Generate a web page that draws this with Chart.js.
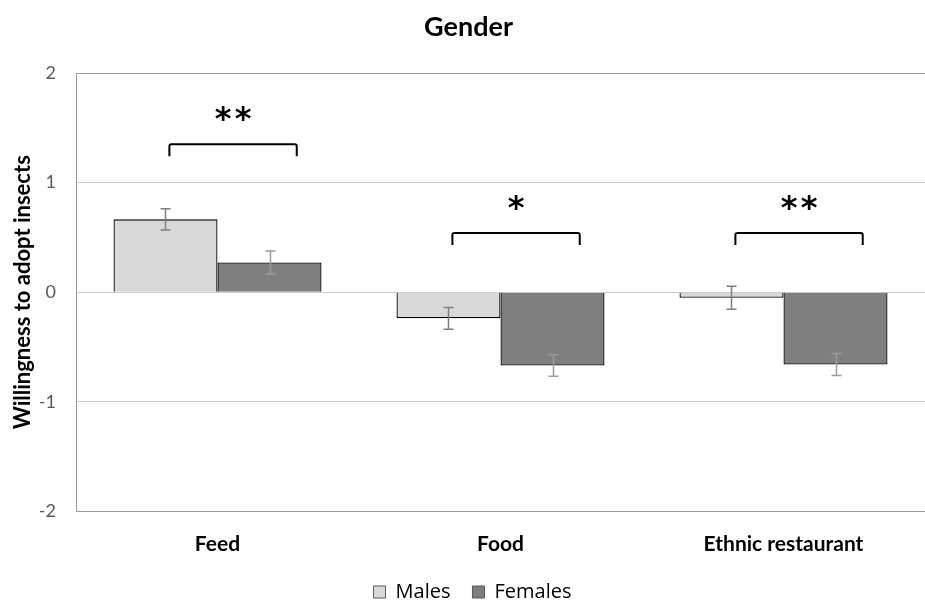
<!DOCTYPE html>
<html>
<head>
<meta charset="utf-8">
<script src="https://cdn.jsdelivr.net/npm/chart.js@4.4.1/dist/chart.umd.min.js"></script>
<style>
  html, body { margin: 0; padding: 0; background: #ffffff; }
  #wrap { width: 925px; height: 601px; }
</style>
</head>
<body>
<div id="wrap"><canvas id="chart" width="925" height="601"></canvas></div>
<script>
// Willingness to adopt insects, by gender (mean ± SE)
const categories = ['Feed', 'Food', 'Ethnic restaurant'];
const males = [0.665, -0.238, -0.05];
const females = [0.272, -0.668, -0.659];
const malesErr = [0.097, 0.1, 0.105];
const femalesErr = [0.105, 0.098, 0.1];
const yTicks = [-2, -1, 0, 1, 2];
// significance of the male/female difference per category
const significance = ['**', '*', '**'];
const bracketLevel = [1.35, 0.54, 0.54];

const errors = [malesErr, femalesErr];

const errorBarPlugin = {
  id: 'errorBars',
  afterDatasetsDraw(chart) {
    const ctx = chart.ctx;
    const y = chart.scales.y;
    ctx.save();
    ctx.lineWidth = 1.5;
    chart.data.datasets.forEach((ds, d) => {
      const meta = chart.getDatasetMeta(d);
      // a touch lighter over the dark bars so the whisker stays visible
      ctx.strokeStyle = d === 0 ? '#7f7f7f' : '#9a9a9a';
      meta.data.forEach((bar, i) => {
        const v = ds.data[i];
        const e = errors[d][i];
        const x = Math.round(bar.x) + 0.5;
        const top = y.getPixelForValue(v + e);
        const bot = y.getPixelForValue(v - e);
        const cap = 5;
        ctx.beginPath();
        ctx.moveTo(x, top); ctx.lineTo(x, bot);
        ctx.moveTo(x - cap, top); ctx.lineTo(x + cap, top);
        ctx.moveTo(x - cap, bot); ctx.lineTo(x + cap, bot);
        ctx.stroke();
      });
    });
    ctx.restore();
  }
};

const bracketPlugin = {
  id: 'sigBrackets',
  afterDraw(chart) {
    const ctx = chart.ctx;
    const xs = chart.scales.x;
    const ys = chart.scales.y;
    ctx.save();
    ctx.strokeStyle = '#000000';
    ctx.lineWidth = 2;
    ctx.lineJoin = 'round';
    categories.forEach((c, i) => {
      const x1 = xs.getPixelForValue(i - 0.17);
      const x2 = xs.getPixelForValue(i + 0.28);
      const yTop = ys.getPixelForValue(bracketLevel[i]);
      const yLeg = yTop + 12;
      ctx.beginPath();
      ctx.moveTo(x1, yLeg);
      ctx.lineTo(x1, yTop + 2);
      ctx.quadraticCurveTo(x1, yTop, x1 + 2, yTop);
      ctx.lineTo(x2 - 2, yTop);
      ctx.quadraticCurveTo(x2, yTop, x2, yTop + 2);
      ctx.lineTo(x2, yLeg);
      ctx.stroke();

      // asterisks, one glyph at a time with a small gap between them
      ctx.fillStyle = '#000000';
      ctx.font = 'bold 32px "DejaVu Sans"';
      ctx.textAlign = 'center';
      ctx.textBaseline = 'alphabetic';
      const stars = significance[i].split('');
      const m = ctx.measureText('*');
      const step = 20;
      const cx = (x1 + x2) / 2;
      const cy = yTop - 31;
      const baseY = cy + (m.actualBoundingBoxAscent - m.actualBoundingBoxDescent) / 2;
      stars.forEach((s, k) => {
        const sx = cx + (k - (stars.length - 1) / 2) * step;
        ctx.fillText(s, sx, baseY);
      });
    });
    ctx.restore();
  }
};

const shiftPlugin = {
  id: 'blockShift',
  afterLayout(chart) {
    if (chart.legend) { chart.legend.left += 10; chart.legend.right += 10; }
    if (chart.titleBlock) { chart.titleBlock.left += 6; chart.titleBlock.right += 6; }
  }
};

new Chart(document.getElementById('chart'), {
  type: 'bar',
  data: {
    labels: categories,
    datasets: [
      {
        label: 'Males',
        data: males,
        backgroundColor: '#d9d9d9',
        borderColor: '#000000',
        borderWidth: 1.3
      },
      {
        label: 'Females',
        data: females,
        backgroundColor: '#7f7f7f',
        borderColor: '#000000',
        borderWidth: 1.3
      }
    ]
  },
  options: {
    responsive: false,
    animation: false,
    devicePixelRatio: 1,
    layout: { padding: { left: 0, right: 0, top: 0, bottom: -11 } },
    datasets: {
      bar: { categoryPercentage: 0.735, barPercentage: 1.0 }
    },
    plugins: {
      title: {
        display: true,
        text: 'Gender',
        color: '#000000',
        font: { family: 'Lato', size: 27, weight: 'bold', lineHeight: 1.2 },
        padding: { top: 11, bottom: 29.6 }
      },
      legend: {
        display: true,
        position: 'bottom',
        labels: {
          color: '#000000',
          font: { family: '"Open Sans"', size: 20 },
          boxWidth: 12,
          boxHeight: 12,
          padding: 22,
          generateLabels(chart) {
            return chart.data.datasets.map((ds, i) => ({
              text: ds.label,
              fillStyle: ds.backgroundColor,
              strokeStyle: '#595959',
              lineWidth: 1,
              hidden: false,
              datasetIndex: i
            }));
          }
        }
      },
      tooltip: { enabled: false }
    },
    scales: {
      x: {
        grid: { display: false, drawTicks: false },
        border: { display: true, color: '#999999', width: 1 },
        ticks: {
          color: '#000000',
          font: { family: 'Lato', size: 21, weight: 'bold', lineHeight: 1.2 },
          padding: 20,
          maxRotation: 0
        },
        afterFit(scale) { scale.height = 48.5; }
      },
      y: {
        min: -2,
        max: 2,
        afterBuildTicks(scale) { scale.ticks = yTicks.map(v => ({ value: v })); },
        grid: {
          drawTicks: false,
          color(ctx) {
            const v = ctx.tick && ctx.tick.value;
            return (v === 2 || v === -2) ? '#999999' : '#cccccc';
          },
          lineWidth: 1
        },
        border: { display: true, color: '#999999', width: 1 },
        ticks: {
          color: '#595959',
          font: { family: 'Lato', size: 18 },
          padding: 20,
          callback: v => String(v)
        },
        title: {
          display: true,
          text: 'Willingness to adopt insects',
          color: '#000000',
          font: { family: 'Lato', size: 22, weight: 'bold', lineHeight: 1.2 },
          padding: { top: 10, bottom: 0 }
        },
        afterFit(scale) { scale.width = 76; }
      }
    }
  },
  plugins: [errorBarPlugin, bracketPlugin, shiftPlugin]
});
</script>
</body>
</html>
